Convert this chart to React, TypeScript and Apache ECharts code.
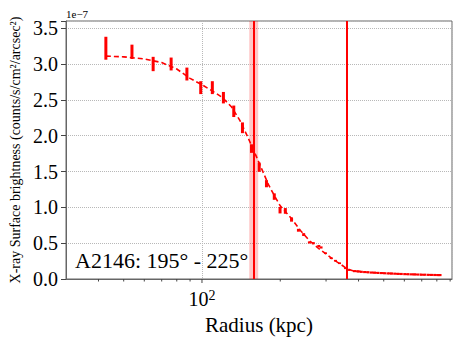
import React, { useEffect, useRef } from "react";
import * as echarts from "echarts";

// Observed surface-brightness points (radius in kpc, value in 1e-7 units, 1-sigma error)
const pointRadius = [
  42.7, 53.8, 64.9, 76.1, 87.5, 98.9, 109.6, 120.9, 132.5, 143.1, 155, 166, 177, 189.7,
  199.6, 209.2, 221, 234.9, 246, 258.9, 268, 281.3, 287, 298.5, 314, 326, 338, 356.5, 367,
  386, 398, 410, 422, 435, 448, 461, 475, 489, 504, 519, 535, 551, 567, 584, 602, 620, 638,
  657, 677, 697, 718, 740, 762, 785, 808, 823,
];
const pointValue = [
  3.22, 3.17, 3.0, 3.0, 2.86, 2.67, 2.67, 2.53, 2.34, 2.11, 1.82, 1.56, 1.33, 1.15,
  0.96, 0.95, 0.83, 0.68, 0.62, 0.51, 0.5, 0.46, 0.44, 0.36, 0.29, 0.255, 0.22, 0.15, 0.125,
  0.11, 0.105, 0.1, 0.097, 0.093, 0.09, 0.088, 0.085, 0.083, 0.08, 0.078, 0.076, 0.074, 0.072,
  0.07, 0.068, 0.066, 0.065, 0.064, 0.062, 0.061, 0.06, 0.058, 0.057, 0.056, 0.055, 0.055,
];
const pointError = [
  0.16, 0.1, 0.1, 0.09, 0.09, 0.09, 0.09, 0.08, 0.08, 0.075, 0.06, 0.065, 0.05, 0.045,
  0.045, 0.04, 0.03, 0.02, 0.02, 0.015, 0.015, 0.015, 0.015, 0.012, 0.012, 0.012, 0.012, 0.012, 0.012,
  0.015, 0.015, 0.015, 0.015, 0.015, 0.015, 0.015, 0.015, 0.015, 0.015, 0.015, 0.015, 0.015, 0.015,
  0.015, 0.015, 0.015, 0.015, 0.015, 0.015, 0.015, 0.015, 0.015, 0.015, 0.015, 0.015, 0.015,
];

// Best-fit model curve
const modelRadius = [
  42.7, 50, 60, 70, 80, 90, 100, 110, 120, 130, 140, 150, 160, 170, 180, 190, 200, 220, 240,
  260, 280, 300, 320, 340, 360, 380, 420, 500, 600, 700, 823,
];
const modelValue = [
  3.11, 3.1, 3.07, 3.02, 2.93, 2.8, 2.71, 2.62, 2.53, 2.4, 2.21, 1.98, 1.75, 1.53, 1.32, 1.16,
  1.02, 0.85, 0.67, 0.53, 0.43, 0.35, 0.27, 0.21, 0.145, 0.115, 0.098, 0.082, 0.068, 0.06, 0.055,
];

// Vertical markers (kpc)
const edgeRadius = 157.8;
const edgeBand = [152, 164.5];
const outerRadius = 359.7;

// Axis settings
const xMin = 30;
const xMax = 915;
const xMinorTicks = [40, 50, 60, 70, 80, 90, 200, 300, 400, 500, 600, 700, 800, 900];
const xMajorTicks = [100];
const yMin = 0;
const yMax = 3.6;
const yInterval = 0.5;

const SERIF = "Liberation Serif";
const RED = "#ff0000";

export default function App() {
  const ref = useRef<HTMLDivElement>(null);

  useEffect(() => {
    if (!ref.current) return;
    const chart = echarts.init(ref.current, undefined, { renderer: "svg" });

    const errData = pointRadius.map((r, i) => [r, pointValue[i], pointError[i]]);
    const modelData = modelRadius.map((r, i) => [r, modelValue[i]]);
    const tickData = [
      ...xMinorTicks.map((t) => [t, 2.5]),
      ...xMajorTicks.map((t) => [t, 4]),
    ];

    chart.setOption({
      animation: false,
      backgroundColor: "#ffffff",
      textStyle: { fontFamily: SERIF },
      grid: {
        left: 66,
        right: 11,
        top: 21,
        bottom: 68,
        show: true,
        borderColor: "#666666",
        borderWidth: 1,
        backgroundColor: "transparent",
      },
      xAxis: {
        type: "log",
        logBase: 10,
        min: xMin,
        max: xMax,
        name: "Radius (kpc)",
        nameLocation: "middle",
        nameGap: 35,
        nameTextStyle: { fontFamily: SERIF, fontSize: 21, color: "#000" },
        axisLine: { show: true, lineStyle: { color: "#666666", width: 1 } },
        axisTick: { show: false },
        axisLabel: {
          margin: 9,
          fontFamily: SERIF,
          color: "#000",
          showMinLabel: false,
          showMaxLabel: false,
          formatter: (v: number) => (Math.abs(v - 100) < 1 ? "{b|10}{s|2}" : ""),
          rich: {
            b: { fontFamily: SERIF, fontSize: 20, color: "#000", lineHeight: 22 },
            s: { fontFamily: SERIF, fontSize: 14, color: "#000", verticalAlign: "top", lineHeight: 14 },
          },
        },
        splitLine: { show: true, lineStyle: { color: "#b8b8b8", type: "dotted", width: 1 } },
        minorTick: { show: false },
      },
      yAxis: {
        type: "value",
        min: yMin,
        max: yMax,
        interval: yInterval,
        name: "X-ray Surface brightness (counts/s/cm²/arcsec²)",
        nameLocation: "middle",
        nameGap: 41,
        nameTextStyle: { fontFamily: SERIF, fontSize: 14, color: "#000" },
        axisLine: { show: true, lineStyle: { color: "#666666", width: 1 } },
        axisTick: { show: true, length: 5, lineStyle: { color: "#444" } },
        axisLabel: {
          margin: 8,
          fontFamily: SERIF,
          fontSize: 20,
          color: "#000",
          formatter: (v: number) =>
            Math.abs(v / yInterval - Math.round(v / yInterval)) < 1e-6 ? v.toFixed(1) : "",
        },
        splitLine: { show: true, lineStyle: { color: "#b8b8b8", type: "dotted", width: 1 } },
      },
      graphic: [
        {
          type: "text",
          left: 66,
          top: 8,
          style: { text: "1e−7", fontFamily: SERIF, fontSize: 11, fill: "#000" },
        },
        {
          type: "text",
          left: 75,
          top: 249,
          style: { text: "A2146: 195° - 225°", fontFamily: SERIF, fontSize: 22, fill: "#000" },
          z: 10,
        },
      ],
      series: [
        {
          type: "line",
          data: modelData,
          showSymbol: false,
          symbol: "none",
          smooth: false,
          lineStyle: { color: RED, width: 1.6, type: [5, 3] },
          z: 3,
          markArea: {
            silent: true,
            itemStyle: { color: "rgba(255,0,0,0.22)" },
            data: [[{ xAxis: edgeBand[0] }, { xAxis: edgeBand[1] }]],
          },
          markLine: {
            silent: true,
            symbol: "none",
            label: { show: false },
            lineStyle: { color: RED, width: 2, type: "solid" },
            data: [{ xAxis: edgeRadius }, { xAxis: outerRadius }],
          },
        },
        {
          type: "custom",
          data: errData,
          z: 4,
          renderItem: (params: any, api: any) => {
            const x = api.value(0);
            const y = api.value(1);
            const e = api.value(2);
            const p1 = api.coord([x, y - e]);
            const p2 = api.coord([x, y + e]);
            return {
              type: "line",
              shape: { x1: p1[0], y1: p1[1], x2: p2[0], y2: p2[1] },
              style: { stroke: RED, lineWidth: 3 },
            };
          },
        },
        {
          type: "custom",
          data: tickData,
          clip: false,
          z: 5,
          silent: true,
          renderItem: (params: any, api: any) => {
            const x = api.value(0);
            const len = api.value(1);
            const p = api.coord([x, yMin]);
            return {
              type: "line",
              shape: { x1: p[0], y1: p[1], x2: p[0], y2: p[1] + len },
              style: { stroke: "#444", lineWidth: 1 },
            };
          },
        },
      ],
    });

    return () => {
      chart.dispose();
    };
  }, []);

  return (
    <div
      ref={ref}
      style={{ position: "fixed", left: 0, top: 0, width: 463, height: 347, background: "#fff" }}
    />
  );
}
